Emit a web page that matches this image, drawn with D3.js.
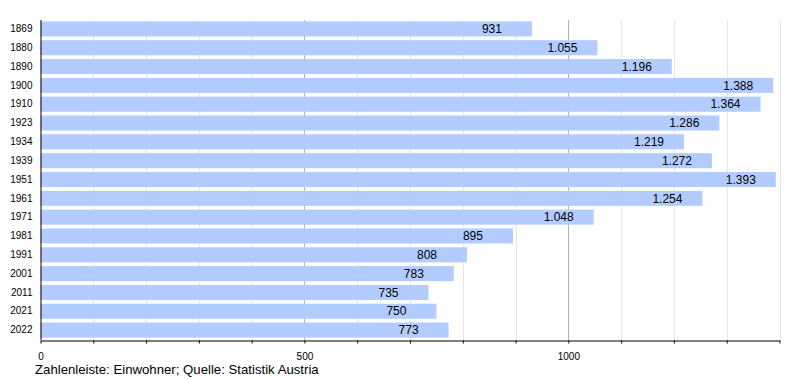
<!DOCTYPE html>
<html><head><meta charset="utf-8">
<script src="https://cdn.jsdelivr.net/npm/d3@7"></script>
<style>body{margin:0;background:#fff}svg{display:block;font-family:"Liberation Sans",Arial,sans-serif}</style>
</head><body>
<svg id="c" width="800" height="380"></svg>
<script>
const years = ["1869","1880","1890","1900","1910","1923","1934","1939","1951","1961","1971","1981","1991","2001","2011","2021","2022"];
const population = [931,1055,1196,1388,1364,1286,1219,1272,1393,1254,1048,895,808,783,735,750,773];
const majorTicks = [0,500,1000];
const caption = "Zahlenleiste: Einwohner; Quelle: Statistik Austria";

const svg = d3.select("#c");
const mLeft = 40.5, mRight = 779.5, mTop = 20, mBottom = 340.5;
const x = d3.scaleLinear().domain([0,1400]).range([mLeft,mRight]);
const y = d3.scaleBand().domain(years).range([mTop-0.5,mBottom-1]).paddingInner(0.2).paddingOuter(0.1);
const de = d3.formatLocale({decimal:",",thousands:".",grouping:[3],currency:["","€"]});
const fmt = de.format(",d");

const minor = d3.range(100,1401,100).filter(v=>v%500!==0);
svg.append("g").selectAll("line").data(minor).join("line")
  .attr("x1",d=>Math.round(x(d))+0.5).attr("x2",d=>Math.round(x(d))+0.5)
  .attr("y1",mTop).attr("y2",mBottom).attr("stroke","#e6e6e6");
svg.append("g").selectAll("line").data(majorTicks.filter(d=>d>0)).join("line")
  .attr("x1",d=>Math.round(x(d))+0.5).attr("x2",d=>Math.round(x(d))+0.5)
  .attr("y1",mTop).attr("y2",mBottom).attr("stroke","#b3b3b3");

svg.append("g").selectAll("rect").data(years).join("rect")
  .attr("x",mLeft).attr("y",d=>y(d))
  .attr("width",(d,i)=>x(population[i])-mLeft).attr("height",y.bandwidth())
  .attr("fill","#b3ccff");

svg.append("g").selectAll("text").data(years).join("text")
  .attr("x",(d,i)=>x(population[i])-50).attr("y",d=>y(d)+y.bandwidth()/2)
  .attr("dy","0.35em").attr("font-size",12).attr("fill","#000")
  .text((d,i)=>fmt(population[i]));

const xAxis = d3.axisBottom(x).tickValues(d3.range(0,1401,100)).tickSize(3).tickSizeOuter(0)
  .tickFormat(d=>majorTicks.includes(d)?d:"");
const gx = svg.append("g").attr("transform",`translate(0,${mBottom})`).call(xAxis);
gx.select(".domain").attr("stroke","#000");
gx.selectAll(".tick line").attr("stroke","#000");
gx.selectAll(".tick text").attr("font-size",10).attr("font-family","Liberation Sans, Arial, sans-serif").attr("dy","1.3em").attr("y",6);

const yAxis = d3.axisLeft(y).tickSize(0).tickPadding(8);
const gy = svg.append("g").attr("transform",`translate(${mLeft},0)`).call(yAxis);
gy.select(".domain").attr("stroke","#000");
gy.selectAll(".tick text").attr("font-size",10).attr("font-family","Liberation Sans, Arial, sans-serif");

svg.append("text").attr("x",35).attr("y",374).attr("font-size",13.2).text(caption);
</script>
</body></html>
